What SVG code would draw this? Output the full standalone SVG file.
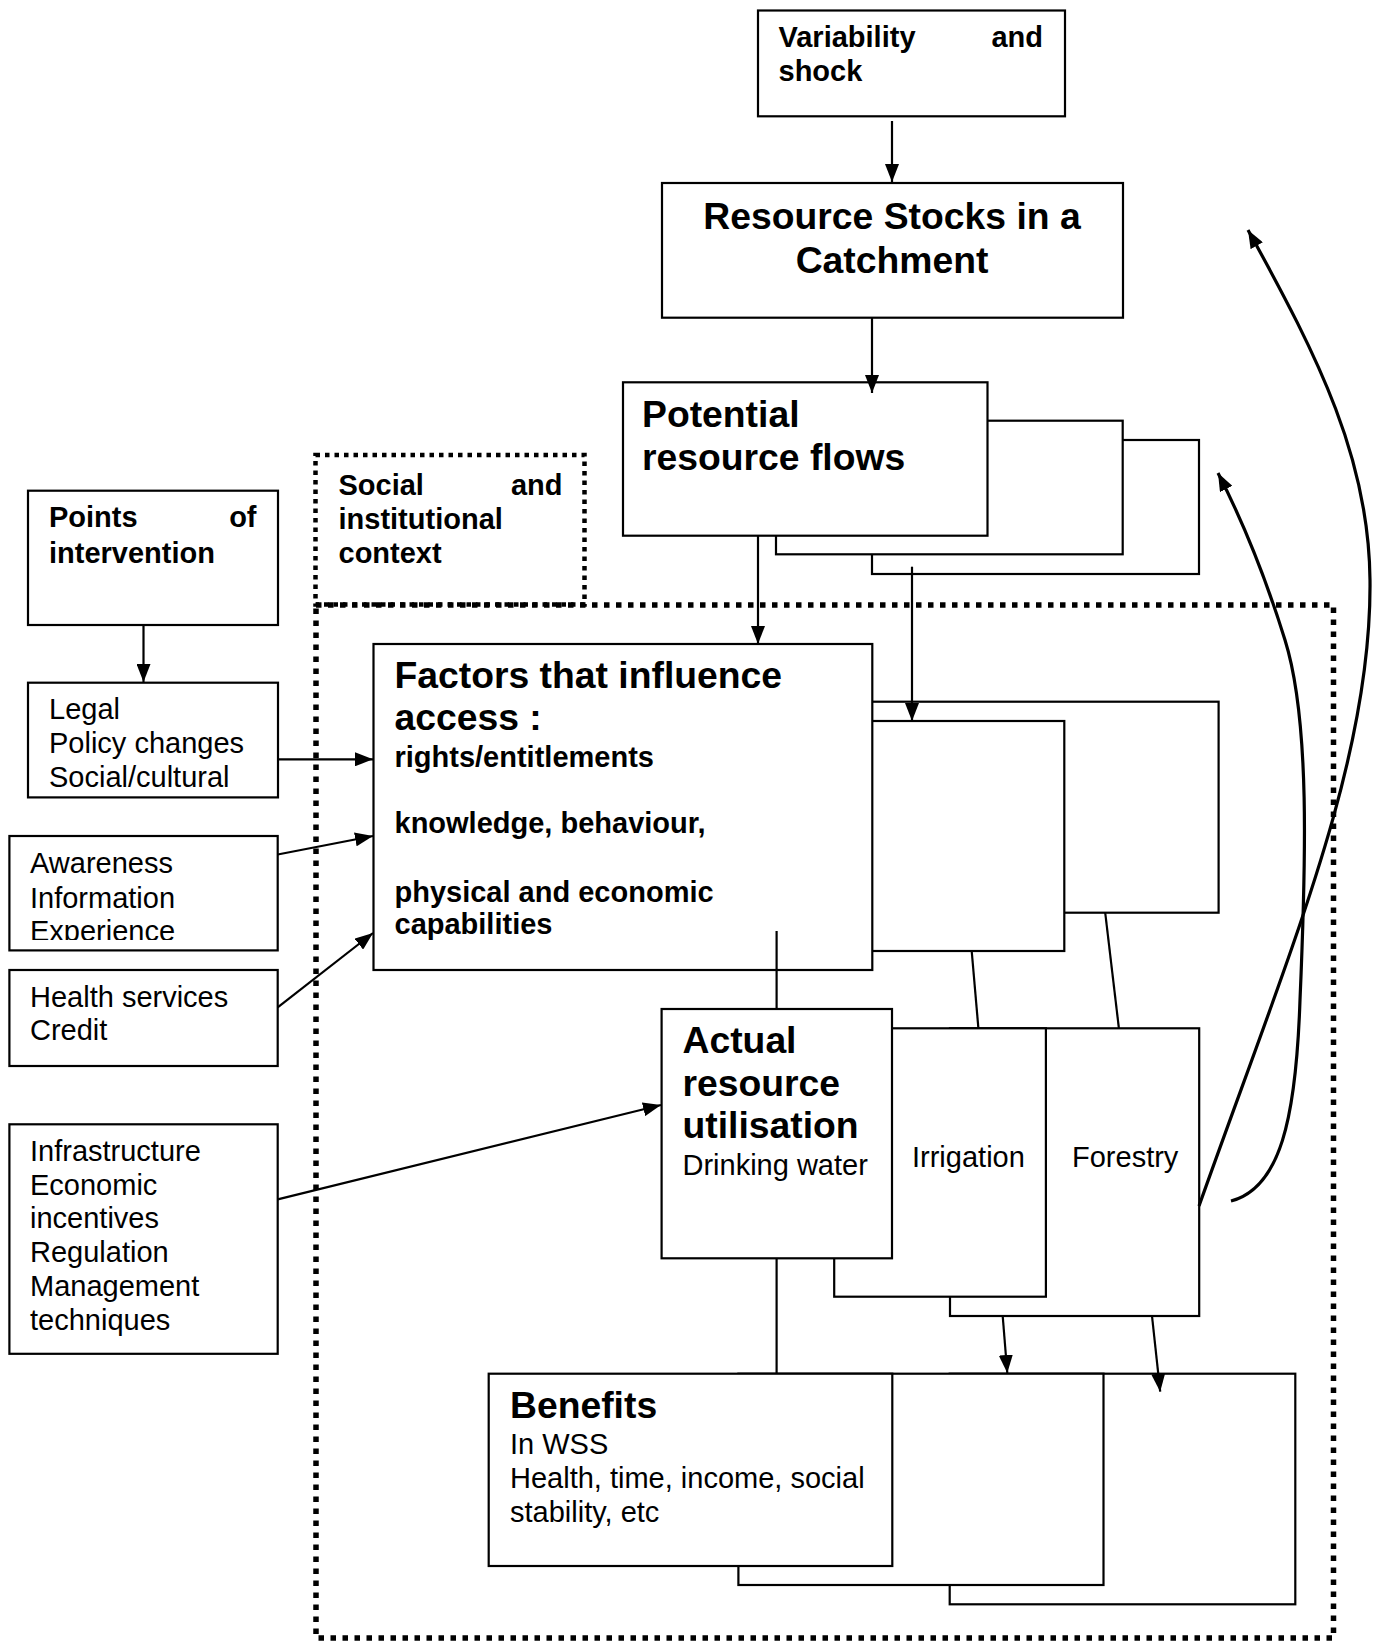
<svg xmlns="http://www.w3.org/2000/svg" width="1380" height="1643" viewBox="0 0 1380 1643">
<style>
.box{fill:#fff;stroke:#000;stroke-width:2.2}
.dotbig{fill:none;stroke:#000;stroke-width:5.5;stroke-dasharray:5.5 6.5}
.dotsm{fill:none;stroke:#000;stroke-width:4.5;stroke-dasharray:4.5 5}
.conn{fill:none;stroke:#000;stroke-width:2.2}
.curve{fill:none;stroke:#000;stroke-width:3.2}
text{font-family:"Liberation Sans",Arial,sans-serif;font-size:29px;fill:#000}
.b{font-weight:bold}
.h{font-size:37.3px;font-weight:bold}
</style>
<defs>
<marker id="ah" viewBox="0 0 18 14" refX="18" refY="7" markerWidth="18" markerHeight="14" markerUnits="userSpaceOnUse" orient="auto">
<path d="M0,0 L18,7 L0,14 z" fill="#000"/>
</marker>
<clipPath id="clipAw"><rect x="9" y="836" width="269" height="104"/></clipPath>
</defs>
<rect width="1380" height="1643" fill="#fff"/>

<g id="context-social">
<rect class="dotsm" x="315.5" y="455" width="269" height="149.5"/>
<text class="b" x="338.5" y="495">Social</text>
<text class="b" x="562.5" y="495" text-anchor="end">and</text>
<text class="b" x="338.5" y="529.3">institutional</text>
<text class="b" x="338.5" y="563.3">context</text>
</g>
<g id="context-big">
<rect class="dotbig" x="316" y="605" width="1017.5" height="1033"/>
</g>

<g id="variability">
<rect class="box" x="758" y="10.5" width="307" height="105.8"/>
<text class="b" x="778.5" y="46.7">Variability</text>
<text class="b" x="1043" y="46.7" text-anchor="end">and</text>
<text class="b" x="778.5" y="81">shock</text>
</g>

<g id="resource-stocks">
<rect class="box" x="662" y="183" width="461" height="134.7"/>
<text class="h" x="892" y="229.3" text-anchor="middle">Resource Stocks in a</text>
<text class="h" x="892" y="272.7" text-anchor="middle">Catchment</text>
</g>

<g id="potential-flows">
<rect class="box" x="872" y="440" width="327" height="134"/>
<rect class="box" x="776" y="420.7" width="346.7" height="133.6"/>
<rect class="box" x="623" y="382.3" width="364.5" height="153.4"/>
<text class="h" x="642" y="426.7">Potential</text>
<text class="h" x="642" y="470">resource flows</text>
</g>

<g id="points-of-intervention">
<rect class="box" x="28" y="490.7" width="250" height="134.3"/>
<text class="b" x="49" y="527.3">Points</text>
<text class="b" x="256.5" y="527.3" text-anchor="end">of</text>
<text class="b" x="49" y="562.7">intervention</text>
</g>

<g id="legal">
<rect class="box" x="28" y="682.7" width="250" height="114.7"/>
<text x="49" y="719.3">Legal</text>
<text x="49" y="753.3">Policy changes</text>
<text x="49" y="787">Social/cultural</text>
</g>

<g id="awareness">
<rect class="box" x="9.4" y="836" width="268.3" height="114.4"/>
<g clip-path="url(#clipAw)">
<text x="30" y="873.3">Awareness</text>
<text x="30" y="907.5">Information</text>
<text x="30" y="940.5">Experience</text>
</g>
</g>

<g id="health">
<rect class="box" x="9.4" y="970" width="268.3" height="96"/>
<text x="30" y="1007.4">Health services</text>
<text x="30" y="1040">Credit</text>
</g>

<g id="infrastructure">
<rect class="box" x="9.4" y="1124.3" width="268.3" height="229.5"/>
<text x="30" y="1161">Infrastructure</text>
<text x="30" y="1194.5">Economic</text>
<text x="30" y="1228">incentives</text>
<text x="30" y="1261.5">Regulation</text>
<text x="30" y="1296">Management</text>
<text x="30" y="1329.7">techniques</text>
</g>

<g id="factors-access">
<rect class="box" x="800" y="701.7" width="418.6" height="211"/>
<rect class="box" x="800" y="721" width="264.3" height="230"/>
<rect class="box" x="373.5" y="644" width="498.8" height="326"/>
<text class="h" x="394.5" y="688.3">Factors that influence</text>
<text class="h" x="394.5" y="730">access :</text>
<text class="b" x="394.5" y="766.7">rights/entitlements</text>
<text class="b" x="394.5" y="833.3">knowledge, behaviour,</text>
<text class="b" x="394.5" y="901.7">physical and economic</text>
<text class="b" x="394.5" y="934">capabilities</text>
</g>

<g id="actual-utilisation">
<rect class="box" x="950" y="1028.3" width="249.2" height="287.7"/>
<rect class="box" x="834.2" y="1028.3" width="211.7" height="268.4"/>
<rect class="box" x="661.6" y="1009" width="230.4" height="249.3"/>
<text class="h" x="682.5" y="1053.3">Actual</text>
<text class="h" x="682.5" y="1096">resource</text>
<text class="h" x="682.5" y="1138.3">utilisation</text>
<text x="682.5" y="1175">Drinking water</text>
<text x="912" y="1166.7">Irrigation</text>
<text x="1072" y="1166.7">Forestry</text>
</g>

<g id="benefits">
<rect class="box" x="949.7" y="1373.7" width="345.6" height="230.6"/>
<rect class="box" x="738.4" y="1373.7" width="365.1" height="211.3"/>
<rect class="box" x="488.7" y="1373.7" width="403.6" height="192.3"/>
<text class="h" x="510" y="1418">Benefits</text>
<text x="510" y="1454">In WSS</text>
<text x="510" y="1488.3">Health, time, income, social</text>
<text x="510" y="1521.7">stability, etc</text>
</g>

<g id="connectors">
<path class="conn" d="M892,121 L892,182" marker-end="url(#ah)"/>
<path class="conn" d="M872,318 L872,393" marker-end="url(#ah)"/>
<path class="conn" d="M758,536 L758,644" marker-end="url(#ah)"/>
<path class="conn" d="M912,566.7 L912,721" marker-end="url(#ah)"/>
<path class="conn" d="M143.5,625 L143.5,682" marker-end="url(#ah)"/>
<path class="conn" d="M278,759.3 L373,759.3" marker-end="url(#ah)"/>
<path class="conn" d="M277.7,854.5 L373,836" marker-end="url(#ah)"/>
<path class="conn" d="M277.7,1007.4 L373,933" marker-end="url(#ah)"/>
<path class="conn" d="M277.7,1199.4 L661,1105" marker-end="url(#ah)"/>
<path class="conn" d="M776.6,931 L776.6,1009"/>
<path class="conn" d="M971.7,951 L978.4,1028.3"/>
<path class="conn" d="M1105.2,912.7 L1118.9,1028.3"/>
<path class="conn" d="M776.6,1258.3 L776.6,1373.7"/>
<path class="conn" d="M1002.7,1316 L1007.3,1373" marker-end="url(#ah)"/>
<path class="conn" d="M1152,1316 L1160.2,1391.7" marker-end="url(#ah)"/>
<path class="curve" d="M1199,1206 C1290,950 1372,760 1370,580 C1369,460 1320,360 1248,230" marker-end="url(#ah)"/>
<path class="curve" d="M1231,1201 C1280,1188 1296,1120 1300,1000 C1306,860 1310,720 1285,640 C1262,566 1238,512 1218,473" marker-end="url(#ah)"/>
</g>
</svg>
